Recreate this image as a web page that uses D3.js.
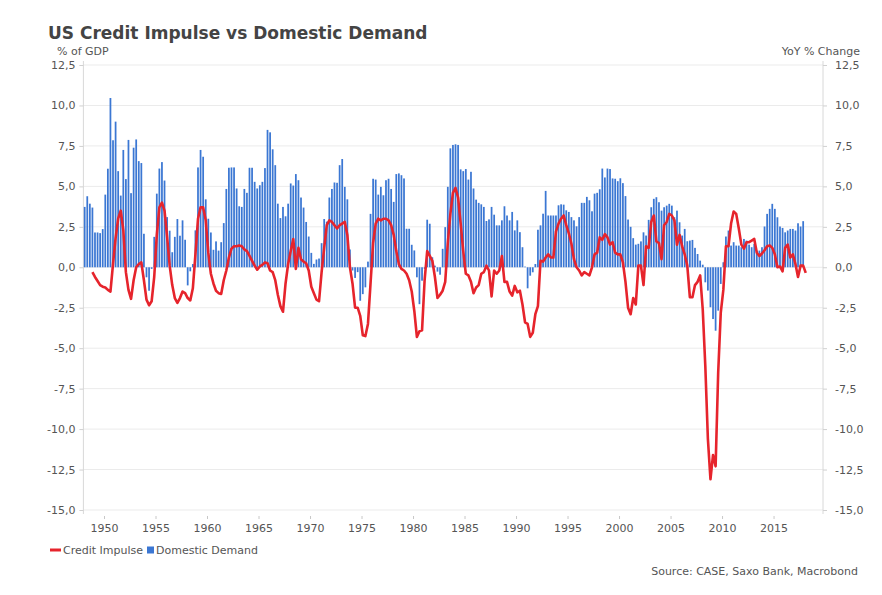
<!DOCTYPE html>
<html><head><meta charset="utf-8">
<script src="https://cdn.jsdelivr.net/npm/d3@7"></script>
<style>
body{margin:0;background:#fff;}
svg text{font-family:"DejaVu Sans",Verdana,sans-serif;}
</style>
</head><body>
<svg id="chart" width="882" height="595"></svg>
<script>
// ---- data (quarterly, first quarter 1948 Q1) ----
const firstYear = 1948;
const periodsPerYear = 4;
const domesticDemand = [
3.73,4.39,3.93,3.69,2.15,2.15,2.11,2.36,4.49,6.09,10.46,7.85,9.0,5.94,4.43,7.25,5.45,7.87,4.58,7.39,
7.9,6.56,6.44,2.07,-0.62,-1.45,-0.1,1.88,4.55,6.1,6.5,5.36,3.1,2.26,0.93,1.88,2.98,1.95,2.9,1.7,
-1.12,-0.25,0.2,2.28,6.17,7.25,6.83,4.2,3.0,2.15,1.08,1.6,1.03,1.55,2.73,4.84,6.15,6.17,6.17,4.87,
3.77,3.73,4.84,4.6,6.15,6.15,5.28,4.87,5.07,5.28,6.13,8.49,8.34,7.29,6.31,3.93,3.04,3.73,3.15,3.93,
5.18,5.05,5.76,5.38,4.31,3.69,2.8,1.9,0.89,0.21,0.48,0.54,1.49,2.98,2.82,4.31,4.84,5.24,5.22,6.31,
6.69,4.97,4.2,1.1,-0.2,-0.66,-0.3,-2.07,-1.66,-1.24,0.35,3.3,5.47,5.42,4.49,4.97,4.45,5.38,5.47,4.84,
4.04,5.76,5.8,5.69,5.49,2.38,2.38,1.39,1.04,-0.62,-2.28,-0.83,-0.1,2.94,2.69,0.62,0.1,-0.27,-0.46,1.14,
2.48,4.97,7.35,7.56,7.6,7.56,6.05,5.94,6.07,5.42,5.9,4.87,4.18,3.98,3.89,3.73,2.86,2.96,3.73,3.25,
2.59,2.59,2.9,3.77,3.2,2.9,3.42,2.28,2.9,2.17,1.24,0.04,-1.3,-0.52,-0.31,0.2,2.32,2.59,3.31,4.72,
3.2,3.2,3.2,3.2,3.83,3.89,3.87,3.52,3.42,3.1,2.9,2.53,3.1,3.98,3.98,4.35,4.14,3.46,4.55,4.6,
4.82,6.1,5.55,6.1,6.07,5.49,5.47,5.32,5.5,5.2,4.4,2.95,2.5,1.8,1.4,1.45,1.6,2.16,1.96,2.93,
3.71,4.23,4.33,4.02,3.5,3.71,3.81,3.92,3.81,3.09,3.5,2.78,1.96,2.37,1.61,1.65,1.69,1.2,0.82,0.41,
0.16,-0.93,-1.44,-2.47,-3.2,-3.92,-2.68,-1.03,0.31,1.9,2.27,1.34,1.55,1.34,1.34,1.24,1.75,1.65,1.4,1.24,
1.44,1.03,1.03,1.24,2.52,3.3,3.61,3.92,3.61,3.09,2.52,2.43,2.16,2.27,2.37,2.37,2.27,2.72,2.52,2.85
];
const creditImpulse = [
null,null,null,-0.3,-0.6,-0.85,-1.1,-1.2,-1.25,-1.4,-1.5,0.2,1.8,3.0,3.5,2.3,-0.3,-1.4,-1.95,-0.8,
0.0,0.2,0.3,-0.8,-2.0,-2.35,-2.1,-0.6,2.0,3.7,4.0,3.5,1.9,0.1,-1.1,-1.9,-2.2,-1.9,-1.5,-1.6,
-1.9,-2.05,-1.3,0.8,3.0,3.7,3.7,2.9,0.9,-0.4,-1.0,-1.45,-1.6,-1.65,-0.8,-0.2,0.6,1.15,1.3,1.3,
1.35,1.3,1.1,1.0,0.7,0.4,0.1,-0.15,0.05,0.15,0.3,0.25,-0.2,-0.3,-0.8,-1.7,-2.4,-2.75,-1.0,0.2,
1.0,1.75,-0.1,1.2,0.5,0.35,0.25,-0.2,-1.2,-1.6,-2.0,-2.1,-0.3,1.2,2.6,2.9,2.8,2.6,2.4,2.6,
2.7,2.8,2.0,0.0,-1.0,-2.5,-2.5,-3.0,-4.2,-4.25,-3.5,-1.0,1.5,2.7,3.0,2.9,3.0,3.0,2.9,2.6,
2.0,1.0,0.2,-0.1,-0.2,-0.4,-0.8,-1.5,-2.7,-4.3,-3.95,-3.9,-0.8,1.0,0.7,0.4,-0.6,-1.9,-1.7,-1.45,
-0.9,1.5,3.3,4.6,4.9,4.3,2.7,1.0,-0.4,-0.5,-0.9,-1.6,-1.25,-1.1,-0.4,-0.3,0.1,-0.2,-1.8,-0.2,
-0.4,-0.2,0.7,-0.9,-0.9,-1.5,-1.75,-1.15,-1.55,-1.45,-2.3,-3.4,-3.5,-4.3,-4.05,-2.9,-2.4,0.4,0.35,0.6,
0.8,0.6,0.6,2.2,2.7,3.0,3.2,2.6,2.1,1.45,0.5,0.0,-0.2,-0.5,-0.3,-0.4,-0.5,0.0,0.8,0.9,
1.85,1.7,2.05,1.85,1.4,1.55,0.9,0.8,0.8,0.3,-0.9,-2.5,-2.9,-1.9,-2.3,0.1,0.1,-1.1,1.3,1.2,
2.8,3.2,1.6,1.5,0.5,2.6,2.8,3.3,3.2,2.9,1.4,2.0,1.3,0.8,0.1,-1.85,-1.85,-1.1,-0.9,-0.5,
-2.6,-6.1,-10.6,-13.1,-11.6,-12.3,-6.5,-2.8,-1.4,1.3,1.3,2.7,3.45,3.3,2.4,1.4,1.15,1.55,1.55,1.65,
1.75,0.9,0.7,0.85,1.05,1.3,1.35,1.2,0.8,0.0,0.05,-0.25,1.2,1.4,0.6,0.8,0.2,-0.6,0.1,0.1,
-0.35
];
const yTicks = [12.5,10,7.5,5,2.5,0,-2.5,-5,-7.5,-10,-12.5,-15];
const xTicks = [1950,1955,1960,1965,1970,1975,1980,1985,1990,1995,2000,2005,2010,2015];
const title = "US Credit Impulse vs Domestic Demand";
const leftAxisTitle = "% of GDP";
const rightAxisTitle = "YoY % Change";
const seriesNames = ["Credit Impulse","Domestic Demand"];
const sourceText = "Source: CASE, Saxo Bank, Macrobond";

// ---- layout ----
const svg = d3.select("#chart");
const plot = {left:83.4, right:823, top:65, bottom:510};
const dateOf = i => firstYear + (i + 0.5) / periodsPerYear;
const x = d3.scaleLinear().domain([1948, 2019.8]).range([plot.left, plot.right]);
const y = d3.scaleLinear().domain([-15, 12.5]).range([plot.bottom, plot.top]);
const fmt = v => v.toFixed(1).replace(".", ",");
const textColor = "#555";
const redColor = "#e6242c";
const blueColor = "#3b77d3";

svg.append("rect").attr("width",882).attr("height",595).attr("fill","#fff");

// gridlines
svg.append("g").selectAll("line").data(yTicks).join("line")
  .attr("x1", plot.left).attr("x2", plot.right)
  .attr("y1", d => y(d)).attr("y2", d => y(d))
  .attr("stroke", "#ebebeb").attr("stroke-width", 1);

// left axis
const gl = svg.append("g").attr("transform", `translate(${plot.left},0)`)
  .call(d3.axisLeft(y).tickValues(yTicks).tickFormat(fmt).tickSize(4).tickPadding(4));
gl.select(".domain").attr("stroke","#d8d8d8").attr("d", `M0,${plot.top-4}V${plot.bottom+4}`);
gl.selectAll(".tick line").attr("stroke","#d0d0d0");
gl.selectAll(".tick text").attr("fill",textColor).style("font-size","11px");

// right axis
const gr = svg.append("g").attr("transform", `translate(${plot.right},0)`)
  .call(d3.axisRight(y).tickValues(yTicks).tickFormat(fmt).tickSize(4).tickPadding(8));
gr.select(".domain").attr("stroke","#d8d8d8").attr("d", `M0,${plot.top-4}V${plot.bottom+4}`);
gr.selectAll(".tick line").attr("stroke","#d0d0d0");
gr.selectAll(".tick text").attr("fill",textColor).style("font-size","11px");

// bottom axis
const gb = svg.append("g").attr("transform", `translate(0,${plot.bottom+6})`)
  .call(d3.axisBottom(x).tickValues(xTicks).tickFormat(d3.format("d")).tickSize(3).tickPadding(5));
gb.select(".domain").remove();
gb.selectAll(".tick line").attr("stroke","#c8c8c8");
gb.selectAll(".tick text").attr("fill",textColor).style("font-size","11px");

// bars
const barW = (x(1) - x(0)) / periodsPerYear * 0.68;
svg.append("g").selectAll("rect").data(domesticDemand).join("rect")
  .attr("x", (d,i) => x(dateOf(i)) - barW/2)
  .attr("width", barW)
  .attr("y", d => y(Math.max(0,d)))
  .attr("height", d => Math.abs(y(d) - y(0)))
  .attr("fill", blueColor);

// line
const line = d3.line()
  .defined(d => d !== null)
  .x((d,i) => x(dateOf(i)))
  .y(d => y(d));
svg.append("path").datum(creditImpulse)
  .attr("d", line).attr("fill","none")
  .attr("stroke", redColor).attr("stroke-width", 2.6)
  .attr("stroke-linejoin","round");

// titles
svg.append("text").attr("x",48).attr("y",39).text(title)
  .attr("fill","#444").style("font-size","17px").style("font-weight","bold");
svg.append("text").attr("x",57).attr("y",55).text(leftAxisTitle)
  .attr("fill",textColor).style("font-size","11px");
svg.append("text").attr("x",860).attr("y",55).attr("text-anchor","end").text(rightAxisTitle)
  .attr("fill",textColor).style("font-size","11px");

// legend
const lg = svg.append("g");
lg.append("line").attr("x1",50).attr("x2",61).attr("y1",550).attr("y2",550)
  .attr("stroke",redColor).attr("stroke-width",3);
lg.append("text").attr("x",63).attr("y",554).text(seriesNames[0])
  .attr("fill",textColor).style("font-size","11px");
lg.append("rect").attr("x",147).attr("y",546.5).attr("width",7).attr("height",7).attr("fill",blueColor);
lg.append("text").attr("x",156).attr("y",554).text(seriesNames[1])
  .attr("fill",textColor).style("font-size","11px");

// source
svg.append("text").attr("x",858).attr("y",575).attr("text-anchor","end").text(sourceText)
  .attr("fill",textColor).style("font-size","11px");
</script>
</body></html>
